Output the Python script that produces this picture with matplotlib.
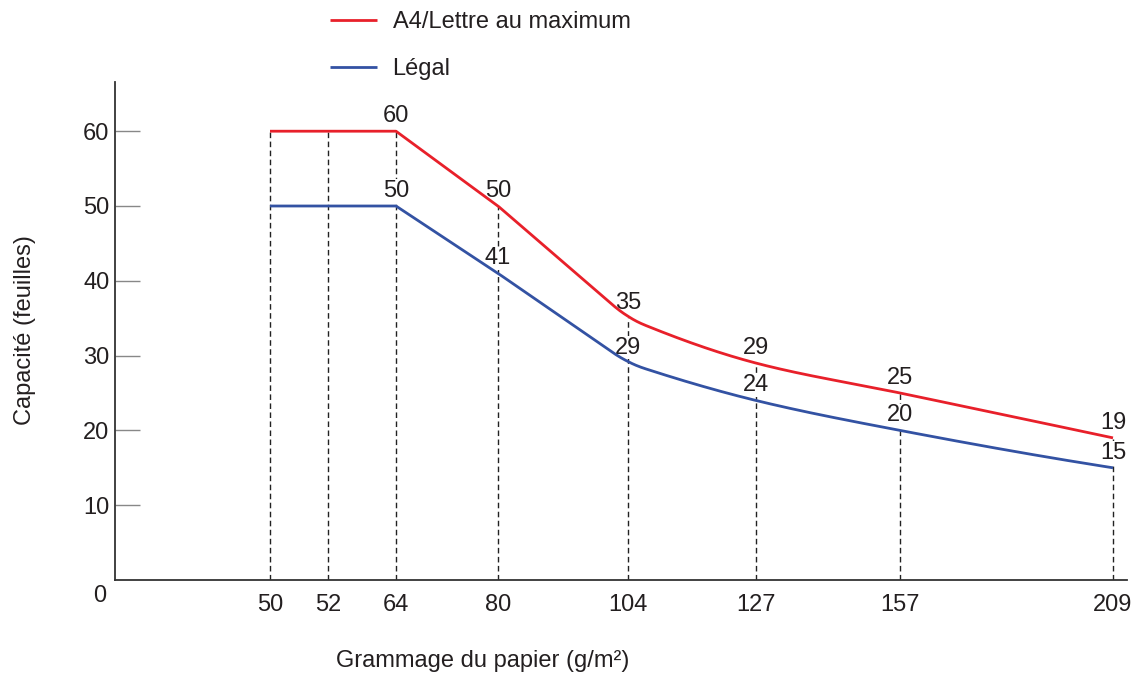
import numpy as np
import matplotlib
matplotlib.use("Agg")
import matplotlib.pyplot as plt

plt.rcParams['font.family'] = ['Liberation Sans', 'DejaVu Sans']

# ---- data ----
grams = [50, 52, 64, 80, 104, 127, 157, 209]
a4_lettre = [60, 60, 60, 50, 35, 29, 25, 19]
legal = [50, 50, 50, 41, 29, 24, 20, 15]
series_names = ["A4/Lettre au maximum", "Légal"]
y_ticks = [10, 20, 30, 40, 50, 60]
first_labelled = 2  # labels shown from 64 g/m2 onwards
knee = 4            # index (104 g/m2) where the straight part turns into a curve

# non-linear (schematic) x scale: gram value -> axis position
scale_grams = [20, 50, 52, 64, 80, 104, 127, 157, 209, 212.4]
scale_pos = [0, 155, 213, 281, 383, 513, 641, 785, 998, 1012]


def fwd(v):
    return np.interp(v, scale_grams, scale_pos)


def inv(p):
    return np.interp(p, scale_pos, scale_grams)


def pchip(x, y, xs):
    x = np.asarray(x, float)
    y = np.asarray(y, float)
    h = np.diff(x)
    d = np.diff(y) / h
    n = len(x)
    m = np.zeros(n)
    for k in range(1, n - 1):
        if d[k - 1] * d[k] > 0:
            w1 = 2 * h[k] + h[k - 1]
            w2 = h[k] + 2 * h[k - 1]
            m[k] = (w1 + w2) / (w1 / d[k - 1] + w2 / d[k])

    def end(h0, h1, d0, d1):
        mm = ((2 * h0 + h1) * d0 - h0 * d1) / (h0 + h1)
        if np.sign(mm) != np.sign(d0):
            mm = 0.0
        elif np.sign(d0) != np.sign(d1) and abs(mm) > abs(3 * d0):
            mm = 3 * d0
        return mm

    m[0] = end(h[0], h[1], d[0], d[1])
    m[-1] = end(h[-1], h[-2], d[-1], d[-2])
    idx = np.clip(np.searchsorted(x, xs) - 1, 0, n - 2)
    t = (xs - x[idx]) / h[idx]
    h00 = 2 * t**3 - 3 * t**2 + 1
    h10 = t**3 - 2 * t**2 + t
    h01 = -2 * t**3 + 3 * t**2
    h11 = t**3 - t**2
    return (h00 * y[idx] + h10 * h[idx] * m[idx] +
            h01 * y[idx + 1] + h11 * h[idx] * m[idx + 1])


def curve(xv, yv):
    """straight segments up to the knee, smooth curve after it,
    knee rounded (all computed in display positions)."""
    px = fwd(np.array(xv, float))
    yv = np.array(yv, float)
    k0 = first_labelled
    ps = np.arange(px[k0], px[-1] + 0.5, 1.0)
    ys = np.where(ps <= px[knee], np.interp(ps, px[k0:knee + 1], yv[k0:knee + 1]),
                  pchip(px[knee:], yv[knee:], np.clip(ps, px[knee], px[-1])))
    # round the knee with a local moving average
    w = 35
    sm = np.convolve(np.pad(ys, w // 2, mode='edge'), np.ones(w) / w, mode='valid')
    wt = np.clip(1 - np.abs(ps - px[knee]) / 60.0, 0, 1)
    ys = wt * sm + (1 - wt) * ys
    xs_all = np.concatenate([np.array(xv[:k0], float), inv(ps)])
    ys_all = np.concatenate([yv[:k0], ys])
    return xs_all, ys_all


fig = plt.figure(figsize=(11.39, 6.74), dpi=100)
ax = fig.add_axes([115 / 1139, 1 - 580 / 674, (1127 - 115) / 1139, (580 - 82) / 674])
ax.set_xscale('function', functions=(fwd, inv))
ax.set_xlim(20, 212.4)
ax.set_ylim(0, (580 - 82) / 7.48)

red = '#e8202a'
blue = '#3352a3'
ink = '#231f20'
fs = 17

ax.vlines(grams, 0, a4_lettre, colors='#222222', linestyles=(0, (4, 2.5)),
          linewidth=1.0, zorder=1)

xr, yr = curve(grams, a4_lettre)
xb, yb = curve(grams, legal)
l1, = ax.plot(xr, yr, color=red, lw=2.0, zorder=3, solid_capstyle='butt')
l2, = ax.plot(xb, yb, color=blue, lw=2.0, zorder=3, solid_capstyle='butt')

for vals in (a4_lettre, legal):
    for g, v in zip(grams[first_labelled:], vals[first_labelled:]):
        ax.annotate(str(v), (g, v), xytext=(0, 11), textcoords='offset points',
                    ha='center', va='center', fontsize=fs, color=ink, zorder=2,
                    bbox=dict(boxstyle='square,pad=0.02', fc='white', ec='none'))

for s in ['top', 'right']:
    ax.spines[s].set_visible(False)
for s in ['left', 'bottom']:
    ax.spines[s].set_color('#333333')
    ax.spines[s].set_linewidth(1.3)

ax.set_yticks(y_ticks)
ax.set_yticklabels([str(t) for t in y_ticks])
ax.tick_params(axis='y', direction='in', length=18, width=1.0, color='#888888',
               pad=4, labelsize=fs, labelcolor=ink)
ax.set_xticks(grams)
ax.set_xticklabels([str(g) for g in grams])
ax.xaxis.set_minor_locator(matplotlib.ticker.NullLocator())
ax.tick_params(axis='x', length=0, pad=10, labelsize=fs, labelcolor=ink)

ax.annotate('0', (0, 0), xycoords='axes fraction', xytext=(-9, -16),
            textcoords='offset pixels', ha='right', va='center', fontsize=fs,
            color=ink)

fig.text(483 / 1139, 1 - 661 / 674, 'Grammage du papier (g/m²)', ha='center',
         va='center', fontsize=fs, color=ink)
fig.text(25 / 1139, 1 - 330 / 674, 'Capacité (feuilles)', ha='center', va='center',
         rotation=90, fontsize=fs, color=ink)

leg = fig.legend([l1, l2], series_names, loc='upper left',
                 bbox_to_anchor=(330 / 1139, 1 - 11 / 674), frameon=False,
                 fontsize=fs, handlelength=2.0, handletextpad=0.65,
                 labelspacing=1.06, borderpad=0, borderaxespad=0)
for t in leg.get_texts():
    t.set_color(ink)

fig.savefig('out.png', dpi=100)
